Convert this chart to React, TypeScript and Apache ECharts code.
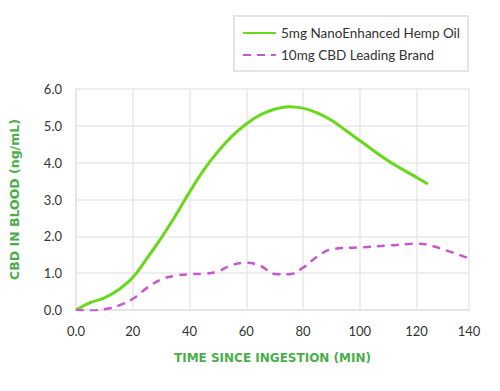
import React, { useEffect, useRef } from "react";
import * as echarts from "echarts";

const nanoTimes = [0, 5, 10, 15, 20, 25, 30, 35, 40, 45, 50, 55, 60, 65, 70, 75, 80, 85, 90, 95, 100, 110, 120, 124];
const nanoValues = [0, 0.2, 0.33, 0.55, 0.88, 1.4, 1.95, 2.55, 3.2, 3.8, 4.3, 4.72, 5.05, 5.3, 5.45, 5.52, 5.48, 5.35, 5.15, 4.88, 4.6, 4.05, 3.6, 3.42];
const brandTimes = [0, 5, 10, 15, 20, 25, 30, 35, 40, 45, 50, 55, 60, 65, 70, 75, 80, 85, 90, 100, 110, 120, 125, 138.5];
const brandValues = [0, -0.02, 0.02, 0.12, 0.3, 0.6, 0.83, 0.93, 0.97, 0.98, 1.05, 1.22, 1.28, 1.2, 0.98, 0.97, 1.15, 1.45, 1.65, 1.7, 1.75, 1.8, 1.75, 1.4];
const seriesNames = ["5mg NanoEnhanced Hemp Oil", "10mg CBD Leading Brand"];
const xTitle = "TIME SINCE INGESTION (MIN)";
const yTitle = "CBD IN BLOOD (ng/mL)";

export default function App() {
  const ref = useRef<HTMLDivElement>(null);
  useEffect(() => {
    const chart = echarts.init(ref.current!, null, { renderer: "svg" });
    const font = "Lato";
    const titleFont = "DejaVu Sans";
    chart.setOption({
      animation: false,
      textStyle: { fontFamily: font },
      legend: {
        left: 234,
        top: 16,
        orient: "vertical",
        itemWidth: 33,
        itemHeight: 10,
        itemGap: 8,
        padding: [10, 8, 9, 8],
        borderColor: "#e4e4e4",
        borderWidth: 2,
        itemStyle: { opacity: 0 },
        textStyle: { fontSize: 13.5, color: "#333", fontFamily: font },
        data: seriesNames,
      },
      grid: { left: 72, right: 31, top: 89, bottom: 81 },
      xAxis: {
        type: "value",
        min: 0,
        max: 138.5,
        interval: 20,
        name: xTitle,
        nameLocation: "middle",
        nameGap: 42,
        nameTextStyle: { color: "#4aae4a", fontSize: 12, fontWeight: "bold", fontFamily: titleFont },
        axisLine: { show: true, lineStyle: { color: "#e6e6e6", width: 2 } },
        axisTick: { show: false },
        axisLabel: {
          color: "#333",
          fontSize: 13,
          margin: 14,
          showMaxLabel: true,
          formatter: (v: number) => (v === 0 ? "0.0" : v > 130 ? "140" : String(v)),
        },
        splitLine: { show: true, lineStyle: { color: "#e8e8e8", width: 1.5 } },
      },
      yAxis: {
        type: "value",
        min: 0,
        max: 6,
        interval: 1,
        name: yTitle,
        nameLocation: "middle",
        nameGap: 55,
        nameTextStyle: { color: "#4aae4a", fontSize: 12.5, fontWeight: "bold", fontFamily: titleFont },
        axisLine: { show: true, lineStyle: { color: "#e6e6e6", width: 2 } },
        axisTick: { show: false },
        axisLabel: { color: "#333", fontSize: 13, margin: 14, formatter: (v: number) => v.toFixed(1) },
        splitLine: { show: true, lineStyle: { color: "#e8e8e8", width: 1.5 } },
      },
      series: [
        {
          name: seriesNames[0],
          type: "line",
          smooth: 0.4,
          symbol: "none",
          lineStyle: { color: "#66d91a", width: 3 },
          itemStyle: { color: "#66d91a" },
          data: nanoTimes.map((t, i) => [t, nanoValues[i]]),
        },
        {
          name: seriesNames[1],
          type: "line",
          smooth: 0.4,
          symbol: "none",
          lineStyle: { color: "#c857cf", width: 2.5, type: [8, 6] },
          itemStyle: { color: "#c857cf" },
          data: brandTimes.map((t, i) => [t, brandValues[i]]),
        },
      ],
    });
    return () => chart.dispose();
  }, []);
  return <div ref={ref} style={{ width: 500, height: 391, position: "absolute", left: 0, top: 0 }} />;
}
